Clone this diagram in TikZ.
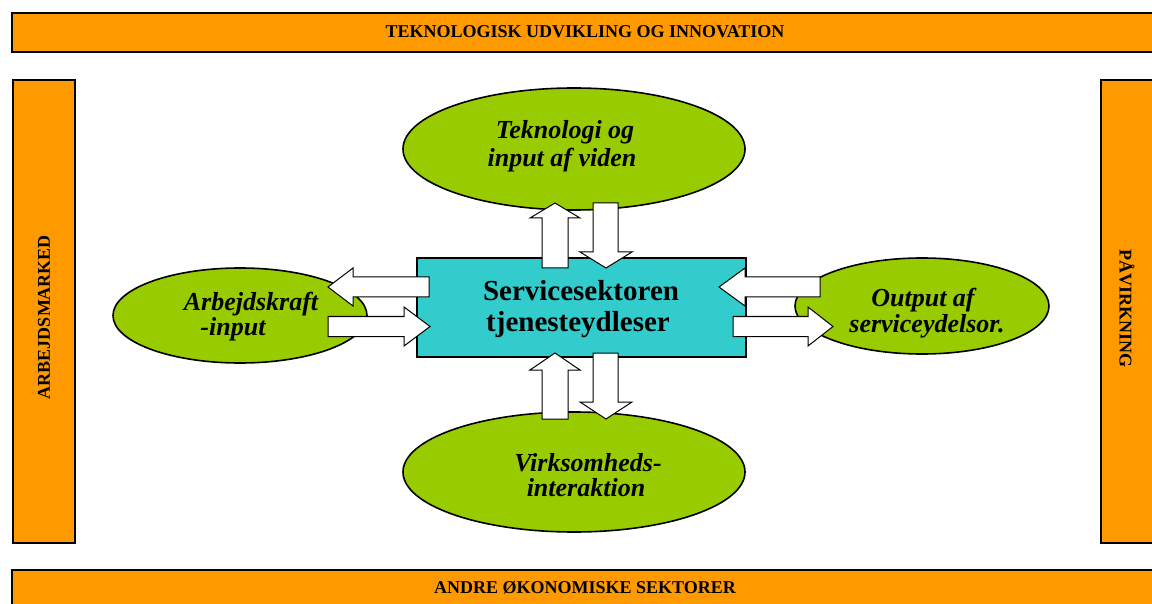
\documentclass[tikz,border=0pt]{standalone}
\usepackage{fontspec}
\setmainfont{Liberation Serif}
\usetikzlibrary{shapes.geometric}
\definecolor{bandorange}{HTML}{FF9900}
\definecolor{ellgreen}{HTML}{99CC00}
\definecolor{boxcyan}{HTML}{33CCCC}
\begin{document}
\begin{tikzpicture}[x=1pt,y=-1pt,
  band/.style={draw=black, line width=1.6pt, fill=bandorange, inner sep=0, rectangle},
  bandtext/.style={font=\fontsize{18}{20}\selectfont\bfseries, inner sep=0},
  ell/.style={ellipse, draw=black, line width=1.6pt, fill=ellgreen, inner sep=0},
  etext/.style={font=\fontsize{26}{26}\selectfont\bfseries\itshape, inner sep=0, anchor=base},
  ctext/.style={font=\fontsize{29}{29}\selectfont\bfseries, inner sep=0, anchor=base},
  cbox/.style={rectangle, draw=black, line width=1.6pt, fill=boxcyan, inner sep=0},
  blockarrow/.style={draw=black, line width=1pt, fill=white, line join=miter}]
\useasboundingbox (0,0) rectangle (1152,604);
\clip (0,0) rectangle (1152,604);
\fill[white] (0,0) rectangle (1152,604);
% bands
\node[band, minimum width=1146pt, minimum height=39pt] (top) at (585,32.5) {};
\node[bandtext] (toptext) at (585,32) {TEKNOLOGISK UDVIKLING OG INNOVATION};
\node[band, minimum width=1146pt, minimum height=38pt] (bot) at (585,589) {};
\node[bandtext] (bottext) at (585,588) {ANDRE ØKONOMISKE SEKTORER};
\node[band, minimum width=62pt, minimum height=463pt] (left) at (44,311.5) {};
\node[bandtext, rotate=90] (lefttext) at (44,317) {ARBEJDSMARKED};
\node[band, minimum width=53pt, minimum height=463pt] (right) at (1127.5,311.5) {};
\node[bandtext, rotate=-90] (righttext) at (1127,309) {PÅVIRKNING};
% ellipses
\node[ell, minimum width=342pt, minimum height=122pt] (etop) at (574,149) {};
\node[ell, minimum width=342pt, minimum height=120pt] (ebot) at (574,472) {};
\node[ell, minimum width=254pt, minimum height=95pt] (eleft) at (240,315.5) {};
\node[ell, minimum width=254pt, minimum height=96pt] (eright) at (922,306) {};
% centre box
\node[cbox, minimum width=329pt, minimum height=99pt] (c) at (581.5,307.5) {};
% texts
\node[etext] (t1) at (565,139) {Teknologi og};
\node[etext] (t2) at (562,167) {input af viden};
\node[etext] (b1) at (588,471) {Virksomheds-};
\node[etext] (b2) at (586,496) {interaktion};
\node[etext] (l1) at (251,311) {Arbejdskraft};
\node[etext] (l2) at (233,335) {-input};
\node[etext] (r1) at (923,306) {Output af};
\node[etext] (r2) at (927,332) {serviceydelsor.};
\node[ctext] (c1) at (581,301) {Servicesektoren};
\node[ctext] (c2) at (578,331) {tjenesteydleser};
% block arrows, left side
\draw[blockarrow] (429,277) -- (353,277) -- (353,268) -- (328,287) -- (353,306) -- (353,297) -- (429,297) -- cycle;
\draw[blockarrow] (328,316.5) -- (404,316.5) -- (404,307) -- (430,326.5) -- (404,346) -- (404,336.5) -- (328,336.5) -- cycle;
% right side
\draw[blockarrow] (820,277) -- (745,277) -- (745,268) -- (719,287) -- (745,306) -- (745,297) -- (820,297) -- cycle;
\draw[blockarrow] (733,316.5) -- (808,316.5) -- (808,307) -- (833,326.5) -- (808,346) -- (808,336.5) -- (733,336.5) -- cycle;
% top
\draw[blockarrow] (542,268) -- (542,218) -- (530,218) -- (555,203) -- (580,218) -- (568,218) -- (568,268) -- cycle;
\draw[blockarrow] (593,203) -- (593,252) -- (580,252) -- (606,268) -- (632,252) -- (618,252) -- (618,203) -- cycle;
% bottom
\draw[blockarrow] (542,419) -- (542,370) -- (530,370) -- (555,353) -- (580,370) -- (568,370) -- (568,419) -- cycle;
\draw[blockarrow] (593,353) -- (593,402) -- (580,402) -- (606,419) -- (632,402) -- (618,402) -- (618,353) -- cycle;
\end{tikzpicture}
\end{document}
